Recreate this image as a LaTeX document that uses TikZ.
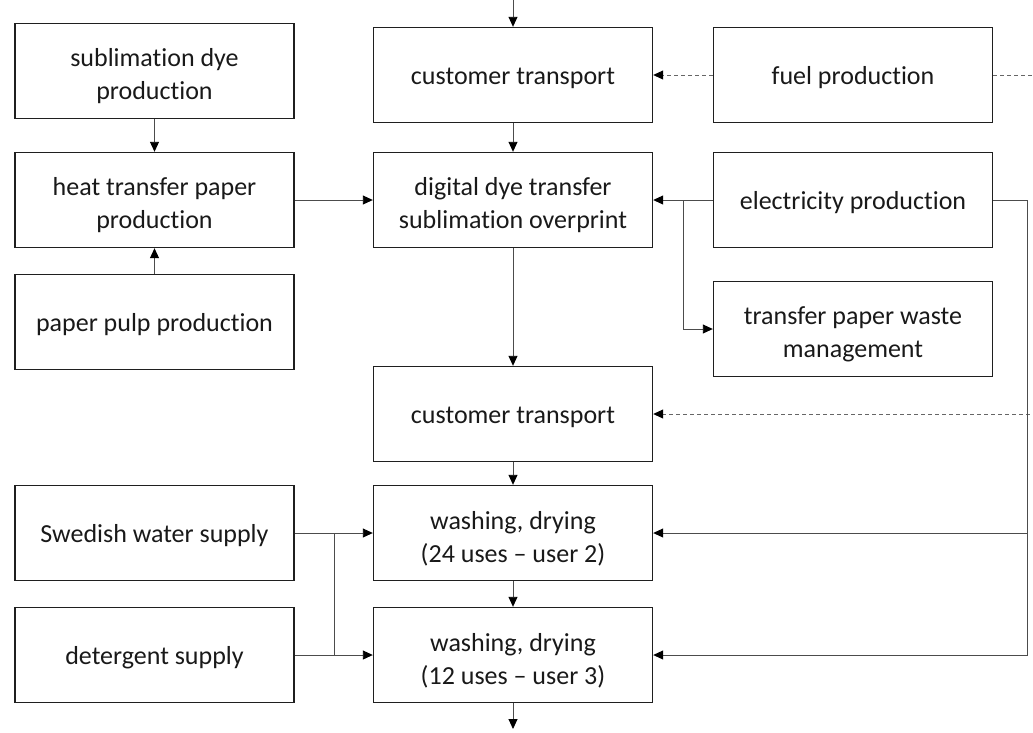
\documentclass[tikz,border=0pt]{standalone}
\usepackage{fontspec}
\setmainfont{Carlito}[Ligatures=NoCommon]
\usetikzlibrary{arrows.meta}
\newcommand\lift{\rule{0pt}{29pt}}
\begin{document}
\begin{tikzpicture}[x=1pt,y=-1pt,
  box/.style={draw=black!88,line width=1.4pt,minimum width=279pt,minimum height=95pt,
    align=center,inner sep=2pt,text=black!90,font=\fontsize{26}{33}\selectfont,
    execute at begin node={\rule{0pt}{24pt}}},
  boxtwo/.style={draw=black!88,line width=1.4pt,minimum width=279pt,minimum height=95pt,
    align=center,inner sep=2pt,text=black!90,font=\fontsize{26}{33}\selectfont},
  conn/.style={draw=black!70,line width=0.9pt,-{Triangle[length=10pt,width=9pt,color=black]}},
  plain/.style={draw=black!70,line width=0.9pt},
  dconn/.style={draw=black!60,line width=0.9pt,dash pattern=on 4pt off 3pt,-{Triangle[length=10pt,width=9pt,color=black]}}]
\useasboundingbox (0,0) rectangle (1033,732);
\clip (0,0) rectangle (1033,732);
% left column
\node[boxtwo] (sdp) at (154.5,71) {\lift sublimation dye\\production};
\node[boxtwo] (htp) at (154.5,200) {\lift heat transfer paper\\production};
\node[box] (ppp) at (154.5,322) {paper pulp production};
\node[box] (water) at (154.5,533) {Swedish water supply};
\node[box] (det) at (154.5,655) {detergent supply};
% middle column
\node[box] (ct1) at (513,75) {customer transport};
\node[boxtwo] (dd) at (513,200) {\lift digital dye transfer\\sublimation overprint};
\node[box] (ct2) at (513,414) {customer transport};
\node[boxtwo] (w1) at (513,533) {\lift washing, drying\\(24 uses – user 2)};
\node[boxtwo] (w2) at (513,655) {\lift washing, drying\\(12 uses – user 3)};
% right column
\node[box] (fuel) at (853,75) {fuel production};
\node[box] (el) at (853,200) {electricity production};
\node[boxtwo] (tpw) at (853,329) {\lift transfer paper waste\\management};
% free ends and junctions
\coordinate (top) at (513,0);
\coordinate (bot) at (513,729);
\coordinate (jel) at (683,200);
\coordinate (er) at (1027,200);
\coordinate (fr) at (1045,75);
\coordinate (jw) at (334,533);
% connectors
\draw[conn] (top) -- (ct1.north);
\draw[conn] (ct1.south) -- (dd.north);
\draw[conn] (dd.south) -- (ct2.north);
\draw[conn] (ct2.south) -- (w1.north);
\draw[conn] (w1.south) -- (w2.north);
\draw[conn] (w2.south) -- (bot);
\draw[conn] (sdp.south) -- (htp.north);
\draw[conn] (ppp.north) -- (htp.south);
\draw[conn] (htp.east) -- (dd.west);
\draw[conn] (el.west) -- (dd.east);
\draw[conn] (jel) |- (tpw.west);
\draw[dconn] (fuel.west) -- (ct1.east);
\draw[dconn] (fuel.east) -- (fr) |- (ct2.east);
\draw[conn] (el.east) -- (er) |- (w2.east);
\draw[conn] (er) |- (w1.east);
\draw[conn] (water.east) -- (w1.west);
\draw[conn] (det.east) -- (w2.west);
\draw[plain] (jw) -- (jw |- det.east);
\end{tikzpicture}
\end{document}
